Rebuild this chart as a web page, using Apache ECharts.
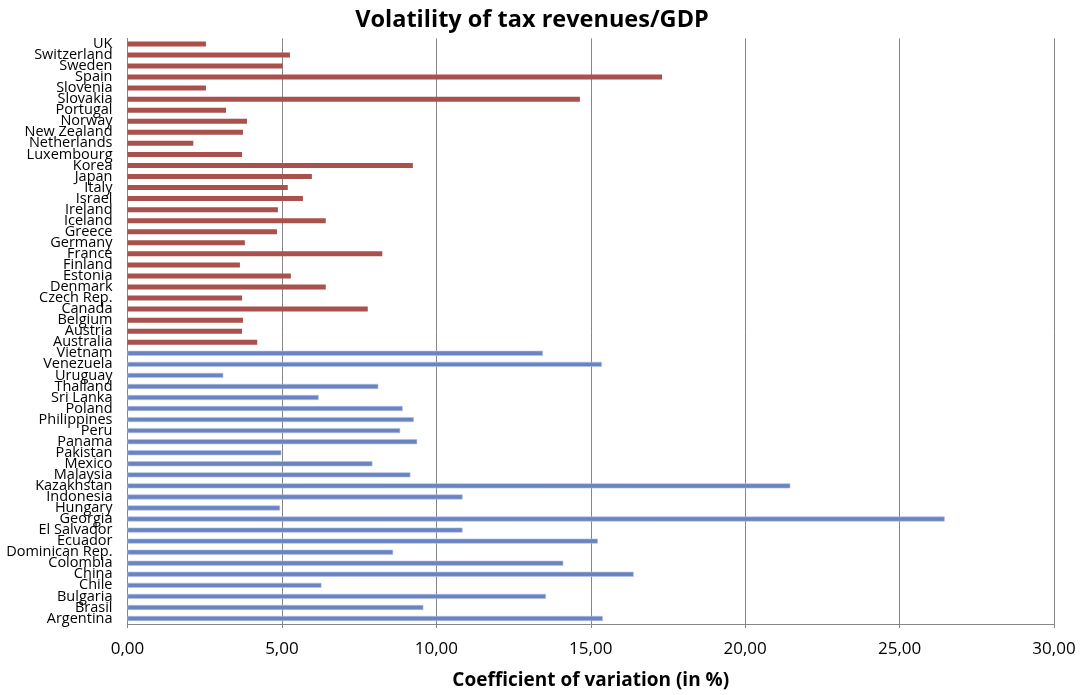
<!DOCTYPE html>
<html>
<head>
<meta charset="utf-8">
<script src="https://cdn.jsdelivr.net/npm/echarts@6/dist/echarts.min.js"></script>
<style>
html,body{margin:0;padding:0;background:#fff;}
#chart{width:1081px;height:695px;}
</style>
</head>
<body>
<div id="chart"></div>
<script>
// Categories bottom to top
const emergingCountries = ["Argentina","Brasil","Bulgaria","Chile","China","Colombia","Dominican Rep.","Ecuador","El Salvador","Georgia","Hungary","Indonesia","Kazakhstan","Malaysia","Mexico","Pakistan","Panama","Peru","Philippines","Poland","Sri Lanka","Thailand","Uruguay","Venezuela","Vietnam"];
const emergingValues = [15.39,9.58,13.55,6.28,16.39,14.11,8.60,15.23,10.85,26.46,4.94,10.85,21.46,9.16,7.93,4.98,9.38,8.83,9.27,8.91,6.19,8.12,3.10,15.36,13.45];
const oecdCountries = ["Australia","Austria","Belgium","Canada","Czech Rep.","Denmark","Estonia","Finland","France","Germany","Greece","Iceland","Ireland","Israel","Italy","Japan","Korea","Luxembourg","Netherlands","New Zealand","Norway","Portugal","Slovakia","Slovenia","Spain","Sweden","Switzerland","UK"];
const oecdValues = [4.20,3.71,3.74,7.78,3.71,6.42,5.29,3.64,8.25,3.80,4.84,6.42,4.87,5.68,5.19,5.97,9.24,3.71,2.13,3.74,3.87,3.19,14.65,2.54,17.31,5.02,5.26,2.54];
const xTicks = [0,5,10,15,20,25,30];

const categories = emergingCountries.concat(oecdCountries);
const emergingSeries = emergingValues.concat(oecdCountries.map(() => '-'));
const oecdSeries = emergingCountries.map(() => '-').concat(oecdValues);

const chart = echarts.init(document.getElementById('chart'));
const labelFont = '"Open Sans","Noto Sans",sans-serif';
chart.setOption({
  animation: false,
  backgroundColor: '#fff',
  title: {
    text: 'Volatility of tax revenues/GDP',
    left: 527, top: 3, textAlign: 'center',
    textStyle: {fontFamily: '"Open Sans","Noto Sans",sans-serif', fontWeight: 'bold', fontSize: 23.5, color: '#000'}
  },
  grid: {left: 127.5, right: 27, top: 38.4, bottom: 68.8, containLabel: false},
  xAxis: {
    type: 'value', min: xTicks[0], max: xTicks[xTicks.length-1], interval: 5,
    name: 'Coefficient of variation (in %)', nameLocation: 'middle', nameGap: 47,
    nameTextStyle: {fontFamily: '"Open Sans","Noto Sans",sans-serif', fontWeight: 'bold', fontSize: 19, color: '#000'},
    axisLine: {show: true, lineStyle: {color: '#868686', width: 1}},
    axisTick: {show: true, length: 4, lineStyle: {color: '#868686'}},
    axisLabel: {fontFamily: labelFont, fontSize: 17, color: '#000', margin: 17,
      formatter: v => v.toFixed(2).replace('.', ',')},
    splitLine: {show: true, lineStyle: {color: '#868686', width: 1}}
  },
  yAxis: {
    type: 'category', data: categories,
    axisLine: {show: true, lineStyle: {color: '#868686', width: 1}},
    axisTick: {show: false},
    axisLabel: {interval: 0, fontFamily: labelFont, fontSize: 14.5, color: '#000', margin: 15, lineHeight: 11},
    splitLine: {show: false}
  },
  series: [
    {name: 'Emerging', type: 'bar', stack: 'a', data: emergingSeries, barWidth: 5,
      itemStyle: {color: '#6A84C1', borderColor: '#AFC0E6', borderWidth: 0.6}},
    {name: 'OECD', type: 'bar', stack: 'a', data: oecdSeries, barWidth: 5.5,
      itemStyle: {color: '#A8514D'}}
  ]
});
</script>
</body>
</html>
